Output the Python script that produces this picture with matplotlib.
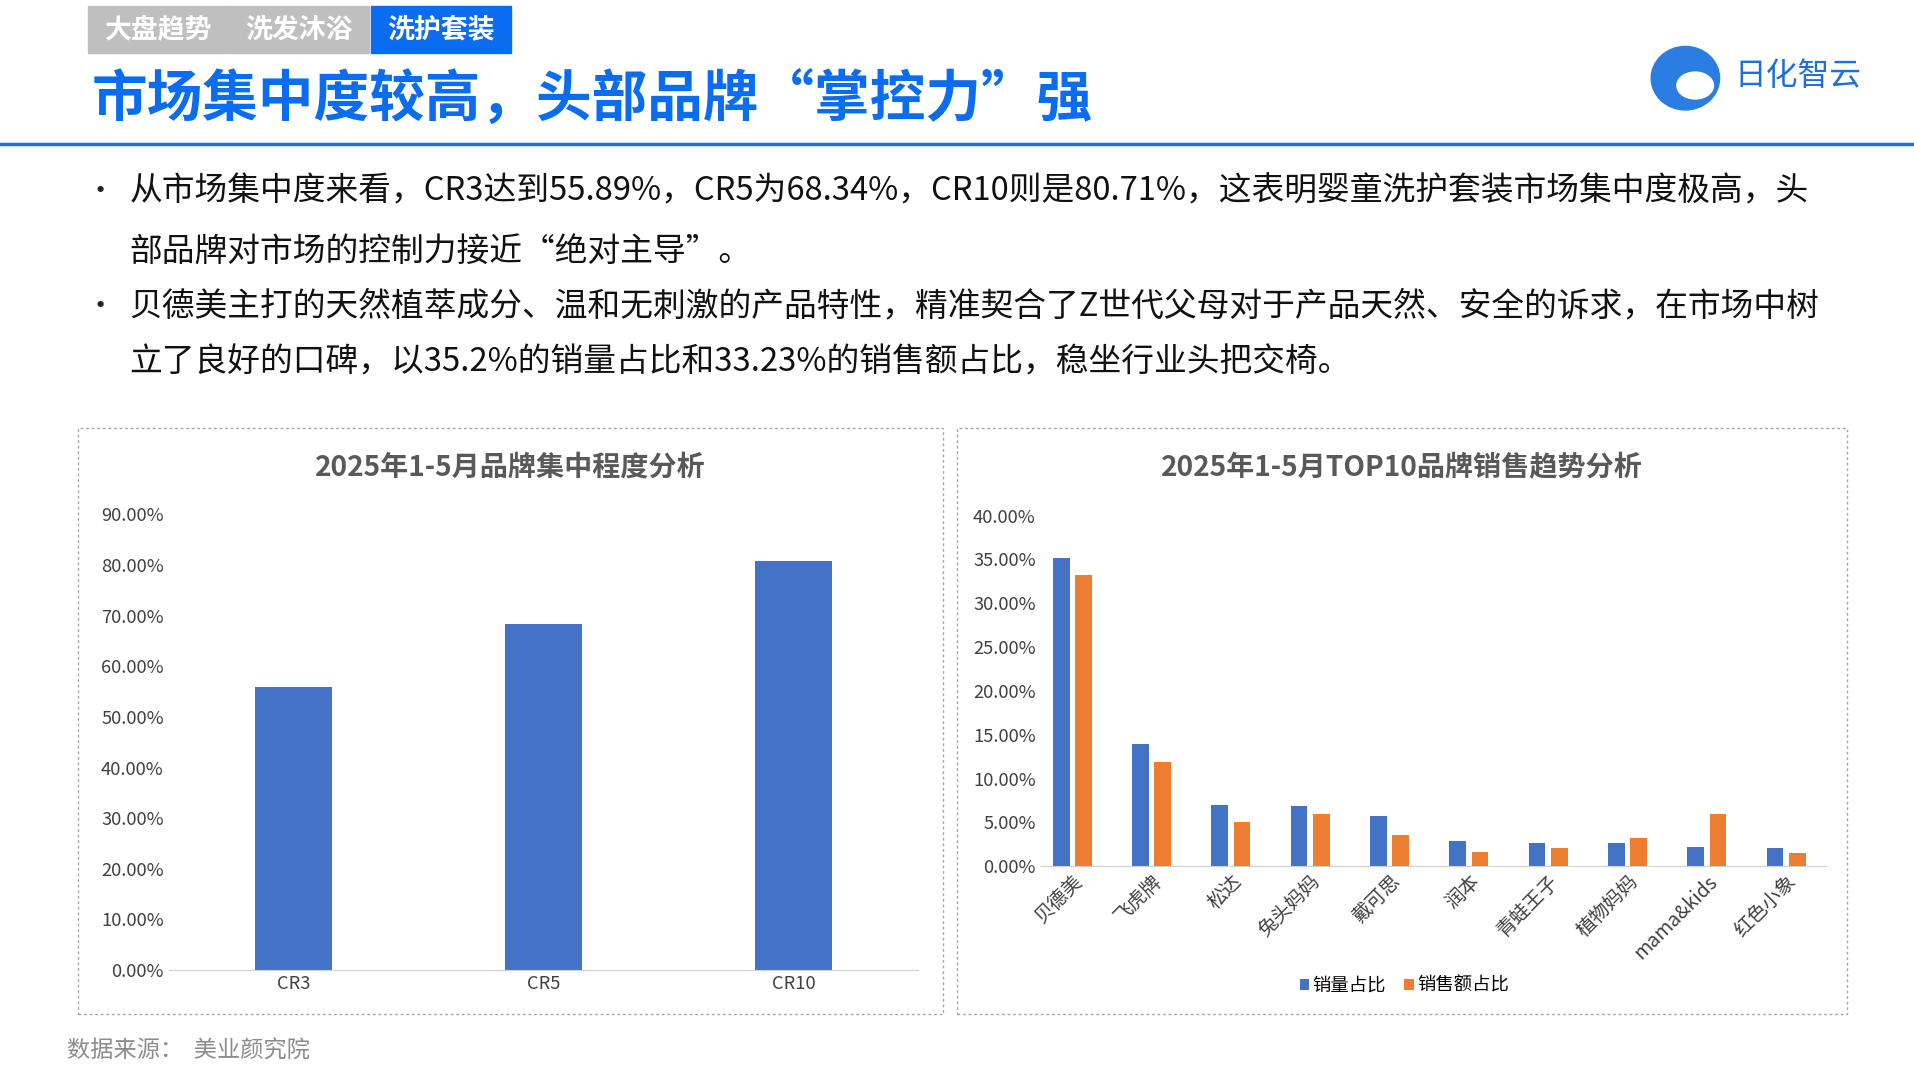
import matplotlib.pyplot as plt
from matplotlib.patches import Rectangle, Ellipse
from matplotlib.ticker import PercentFormatter

plt.rcParams['font.family'] = ['Noto Sans CJK SC', 'DejaVu Sans']

# data
cr_labels = ['CR3', 'CR5', 'CR10']
cr_values = [55.89, 68.34, 80.71]
brands = ['贝德美', '飞虎牌', '松达', '兔头妈妈', '戴可思', '润本', '青蛙王子', '植物妈妈', 'mama&kids', '红色小象']
volume_share = [35.2, 13.9, 7.0, 6.9, 5.7, 2.9, 2.7, 2.6, 2.2, 2.1]
sales_share = [33.23, 11.9, 5.0, 6.0, 3.6, 1.6, 2.1, 3.2, 5.9, 1.5]

BLUE = '#4472C4'
ORANGE = '#ED7D31'
W, H = 1568, 884  # layout measured on reference preview

def fx(x): return x / W
def fy(y): return 1 - y / H
def pt(px): return px * 1080 / H * 0.72

fig = plt.figure(figsize=(19.15, 10.8), dpi=100)
fig.patch.set_facecolor('white')

#---HEADER
tabs = [('大盘趋势', 72, 186, '#BFBFBF'), ('洗发沐浴', 187, 302, '#BFBFBF'), ('洗护套装', 304, 418, '#0A6CF0')]
for t, x0, x1, c in tabs:
    fig.patches.append(Rectangle((fx(x0), fy(43)), fx(x1 - x0), 38 / H, transform=fig.transFigure, color=c))
    fig.text(fx((x0 + x1) / 2), fy(24), t, color='white', fontsize=pt(22), fontweight='bold', ha='center', va='center')
fig.text(fx(75), fy(82), '市场集中度较高，头部品牌“掌控力”强', color='#0A6CF0', fontsize=pt(45.5),
         fontweight='bold', ha='left', va='center')
fig.text(fx(1420), fy(62), '日化智云', color='#1E6FD9', fontsize=pt(26), ha='left', va='center')
fig.patches.append(Ellipse((fx(1380), fy(64)), 56 / W, 52 / H, transform=fig.transFigure, color='#2A7DE1'))
fig.patches.append(Ellipse((fx(1388), fy(70)), 30 / W, 22 / H, transform=fig.transFigure, color='white'))
fig.lines.append(plt.Line2D([0, 1], [fy(118), fy(118)], transform=fig.transFigure, color='#1E6FD9', lw=2.5))

#---BULLETS
lines = [
    (157, '•', '从市场集中度来看，CR3达到55.89%，CR5为68.34%，CR10则是80.71%，这表明婴童洗护套装市场集中度极高，头'),
    (206, '', '部品牌对市场的控制力接近“绝对主导”。'),
    (251, '•', '贝德美主打的天然植萃成分、温和无刺激的产品特性，精准契合了Z世代父母对于产品天然、安全的诉求，在市场中树'),
    (297, '', '立了良好的口碑，以35.2%的销量占比和33.23%的销售额占比，稳坐行业头把交椅。'),
]
for y, b, t in lines:
    if b:
        fig.text(fx(70), fy(y), b, fontsize=pt(24), ha='left', va='center', color='#222222')
    fig.text(fx(106), fy(y), t, fontsize=pt(26.8), ha='left', va='center', color='#111111', fontweight='medium')

#---BOXES
for x0, x1 in [(64, 772), (784, 1512)]:
    fig.patches.append(Rectangle((fx(x0), fy(830)), fx(x1 - x0), 480 / H, transform=fig.transFigure,
                                 fill=False, ec='#A6A6A6', ls=(0, (2, 2)), lw=1))

#---LEFT CHART
ax1 = fig.add_axes([fx(138), fy(794), fx(752 - 138), (794 - 421) / H])
ax1.bar(cr_labels, cr_values, width=0.31, color=BLUE)
ax1.set_ylim(0, 90)
ax1.set_yticks(range(0, 91, 10))
ax1.yaxis.set_major_formatter(PercentFormatter(decimals=2))
ax1.set_xlim(-0.5, 2.5)
fig.text(fx(418), fy(383), '2025年1-5月品牌集中程度分析', fontsize=pt(23), fontweight='bold', color='#595959',
         ha='center', va='center')

#---RIGHT CHART
ax2 = fig.add_axes([fx(852), fy(709), fx(1495 - 852), (709 - 422) / H])
xs = range(len(brands))
ax2.bar([x - 0.14 for x in xs], volume_share, width=0.21, color=BLUE, label='销量占比')
ax2.bar([x + 0.14 for x in xs], sales_share, width=0.21, color=ORANGE, label='销售额占比')
ax2.set_ylim(0, 40)
ax2.set_yticks(range(0, 41, 5))
ax2.yaxis.set_major_formatter(PercentFormatter(decimals=2))
ax2.set_xlim(-0.4, len(brands) - 0.5)
ax2.set_xticks(list(xs))
ax2.set_xticklabels(brands, rotation=45, ha='right', rotation_mode='anchor')
fig.text(fx(1148), fy(383), '2025年1-5月TOP10品牌销售趋势分析', fontsize=pt(23), fontweight='bold', color='#595959',
         ha='center', va='center')
ax2.legend(loc='center', bbox_to_anchor=((1150 - 852) / (1495 - 852), (709 - 807) / (709 - 422)), ncol=2,
           frameon=False, fontsize=pt(15), handlelength=0.5, handleheight=0.5, handletextpad=0.2, columnspacing=1.0)

for ax in (ax1, ax2):
    ax.set_facecolor('none')
    for s in ['top', 'right', 'left']:
        ax.spines[s].set_visible(False)
    ax.spines['bottom'].set_color('#D0D0D0')
    ax.tick_params(axis='both', length=0, labelsize=pt(15), colors='#404040')
ax2.tick_params(axis='x', labelsize=pt(16))

#---SOURCE
fig.text(fx(55), fy(860), '数据来源：  美业颜究院', fontsize=pt(19), color='#8C8C8C', ha='left', va='center')

fig.savefig('out.png', dpi=100)
